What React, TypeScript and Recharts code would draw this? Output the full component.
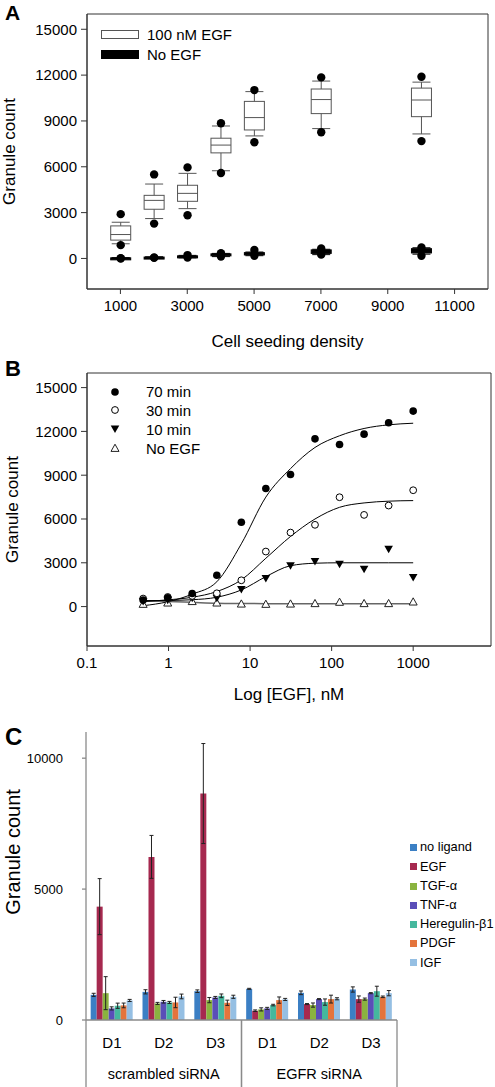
import React from 'react';
import {
  Bar,
  BarChart,
  ComposedChart,
  ErrorBar,
  Label,
  Line,
  ReferenceArea,
  Scatter,
  XAxis,
  YAxis,
} from 'recharts';

const FONT = '"Liberation Sans", Arial, Helvetica, sans-serif';

// ---------- panel A: granule count vs cell seeding density (box plots)
const seedDensity = [1000, 2000, 3000, 4000, 5000, 7000, 10000];
const egfOutLow = [870, 2280, 2830, 5590, 7610, 8260, 7680];
const egfWhiskLow = [960, 2610, 3260, 5740, 8020, 8500, 8150];
const egfQ1 = [1200, 3220, 3740, 6910, 8410, 9480, 9280];
const egfMedian = [1565, 3800, 4260, 7420, 9220, 10400, 10370];
const egfQ3 = [2130, 4130, 4790, 7870, 10280, 11090, 11150];
const egfWhiskHigh = [2370, 4870, 5570, 8670, 10920, 11610, 11540];
const egfOutHigh = [2900, 5500, 5960, 8850, 11020, 11850, 11890];

const noEgfOutLow = [0, 40, 60, 130, 180, 250, 180];
const noEgfWhiskLow = [0, 20, 40, 120, 180, 250, 280];
const noEgfQ1 = [0, 30, 70, 170, 230, 330, 360];
const noEgfMedian = [20, 50, 110, 230, 300, 420, 480];
const noEgfQ3 = [40, 90, 170, 300, 380, 560, 640];
const noEgfWhiskHigh = [50, 110, 200, 330, 420, 600, 700];
const noEgfOutHigh = [20, 70, 220, 350, 550, 650, 720];

const densityTicks = [1000, 3000, 5000, 7000, 9000, 11000];
const countTicks = [0, 3000, 6000, 9000, 12000, 15000];

// ---------- panel B: dose response to EGF
const egfConc = [0.488, 0.977, 1.95, 3.91, 7.81, 15.6, 31.3, 62.5, 125, 250, 500, 1000];
const count70 = [450, 600, 900, 2150, 5780, 8090, 9050, 11490, 11100, 11810, 12590, 13390];
const count30 = [550, 660, 730, 910, 1800, 3770, 5070, 5600, 7490, 6280, 6920, 7970];
const count10 = [340, 430, 570, 570, 1170, 1920, 2790, 3080, 2900, 2560, 3930, 1990];
const countNone = [180, 270, 370, 270, 200, 180, 200, 230, 320, 230, 230, 340];
const fit70 = [60, 330, 850, 1700, 4300, 7500, 9450, 10900, 11700, 12200, 12450, 12560];
const fit30 = [340, 460, 640, 1030, 1830, 3310, 4800, 6000, 6800, 7100, 7220, 7260];
const fit10 = [410, 420, 470, 640, 1140, 2050, 2800, 2970, 3000, 3000, 3000, 3000];
const fitNone = [400, 350, 290, 230, 210, 200, 200, 200, 200, 200, 200, 200];
const concTicks = [0.1, 1, 10, 100, 1000];

// ---------- panel C: ligands x siRNA
const doses = ['D1', 'D2', 'D3', 'D1', 'D2', 'D3'];
const siRNA = ['scrambled siRNA', 'scrambled siRNA', 'scrambled siRNA', 'EGFR siRNA', 'EGFR siRNA', 'EGFR siRNA'];
const ligandNames = ['no ligand', 'EGF', 'TGF-α', 'TNF-α', 'Heregulin-β1', 'PDGF', 'IGF'];
const ligandColors = ['#3B7FC4', '#A6294F', '#8AB33F', '#5A4EB8', '#45B89E', '#E4743C', '#95BFE3'];
const noLigand = [960, 1076, 1100, 1190, 1038, 1165];
const noLigandErr = [60, 80, 50, 20, 70, 100];
const egf = [4330, 6230, 8650, 355, 608, 798];
const egfErr = [1070, 820, 1910, 30, 20, 120];
const tgfa = [1025, 633, 760, 405, 570, 798];
const tgfaErr = [630, 40, 100, 60, 80, 40];
const tnfa = [443, 696, 860, 443, 798, 1025];
const tnfaErr = [60, 50, 40, 40, 20, 20];
const heregulin = [545, 670, 924, 570, 684, 1100];
const heregulinErr = [100, 40, 70, 30, 120, 190];
const pdgf = [557, 670, 658, 760, 798, 886];
const pdgfErr = [90, 200, 100, 120, 150, 30];
const igf = [747, 900, 886, 785, 810, 1025];
const igfErr = [40, 90, 60, 40, 40, 100];
const ligandTicks = [0, 5000, 10000];

const boxRows = seedDensity.map((density, i) => ({
  density,
  egf: [egfOutLow[i], egfWhiskLow[i], egfQ1[i], egfMedian[i], egfQ3[i], egfWhiskHigh[i], egfOutHigh[i]],
  noEgf: [noEgfOutLow[i], noEgfWhiskLow[i], noEgfQ1[i], noEgfMedian[i], noEgfQ3[i], noEgfWhiskHigh[i], noEgfOutHigh[i]],
}));

const doseRows = egfConc.map((conc, i) => ({
  conc,
  count70: count70[i],
  count30: count30[i],
  count10: count10[i],
  countNone: countNone[i],
  fit70: fit70[i],
  fit30: fit30[i],
  fit10: fit10[i],
  fitNone: fitNone[i],
}));

const ligandSeries = [noLigand, egf, tgfa, tnfa, heregulin, pdgf, igf];
const ligandErrors = [noLigandErr, egfErr, tgfaErr, tnfaErr, heregulinErr, pdgfErr, igfErr];
const ligandRows = doses.map((dose, i) => {
  const row: Record<string, string | number> = { dose, siRNA: siRNA[i] };
  ligandSeries.forEach((s, k) => {
    row[`l${k}`] = s[i];
    row[`e${k}`] = ligandErrors[k][i];
  });
  return row;
});

const rangeOf = (d: any) => {
  const all = [...d.egf, ...d.noEgf];
  return [Math.min(...all), Math.max(...all)];
};

// draws one box + whiskers + outliers, using a value->pixel mapper
function drawBox(stats: number[], py: (v: number) => number, cx: number, w: number, dark: boolean, key: string) {
  const [outLo, wLo, q1, med, q3, wHi, outHi] = stats;
  const line = dark ? '#000' : '#555';
  const cap = w * 0.9;
  const boxTop = py(q3);
  const boxH = Math.max(py(q1) - boxTop, dark ? 2 : 0);
  return (
    <g key={key}>
      <line x1={cx} x2={cx} y1={py(wHi)} y2={py(wLo)} stroke={line} strokeWidth={1} />
      <line x1={cx - cap / 2} x2={cx + cap / 2} y1={py(wHi)} y2={py(wHi)} stroke={line} strokeWidth={1} />
      <line x1={cx - cap / 2} x2={cx + cap / 2} y1={py(wLo)} y2={py(wLo)} stroke={line} strokeWidth={1} />
      <rect x={cx - w / 2} y={boxTop} width={w} height={boxH} fill={dark ? '#000' : '#fff'} stroke={line} strokeWidth={1} />
      {!dark && <line x1={cx - w / 2} x2={cx + w / 2} y1={py(med)} y2={py(med)} stroke={line} strokeWidth={1} />}
      <circle cx={cx} cy={py(outLo)} r={4.2} fill="#000" />
      <circle cx={cx} cy={py(outHi)} r={4.2} fill="#000" />
    </g>
  );
}

function BoxShape(props: any) {
  const { x, y, width, height, payload } = props;
  const [lo, hi] = rangeOf(payload);
  const top = Math.min(y, y + height);
  const bottom = Math.max(y, y + height);
  const py = (v: number) => bottom - ((v - lo) / (hi - lo)) * (bottom - top);
  const cx = x + width / 2;
  return (
    <g>
      {drawBox(payload.egf, py, cx, width, false, 'egf')}
      {drawBox(payload.noEgf, py, cx, width, true, 'none')}
    </g>
  );
}

const filledCircle = (p: any) => <circle cx={p.cx} cy={p.cy} r={3.8} fill="#000" />;
const openCircle = (p: any) => <circle cx={p.cx} cy={p.cy} r={3.4} fill="#fff" stroke="#000" strokeWidth={1} />;
const downTriangle = (p: any) => (
  <path d={`M${p.cx - 4.3},${p.cy - 3.5}L${p.cx + 4.3},${p.cy - 3.5}L${p.cx},${p.cy + 4}Z`} fill="#000" />
);
const upTriangle = (p: any) => (
  <path
    d={`M${p.cx - 4},${p.cy + 3.4}L${p.cx + 4},${p.cy + 3.4}L${p.cx},${p.cy - 3.8}Z`}
    fill="#fff"
    stroke="#222"
    strokeWidth={1}
  />
);

const tickStyle = { fontSize: 15, fill: '#000', fontFamily: FONT };
const frame = '#333';

function PanelLetter({ text, top, size }: { text: string; top: number; size: number }) {
  return (
    <div style={{ position: 'absolute', left: 5, top, fontSize: size, fontWeight: 'bold', lineHeight: 1 }}>
      {text}
    </div>
  );
}

function PanelA() {
  return (
    <ComposedChart width={495} height={352} data={boxRows} margin={{ top: 14, right: 7, bottom: 3, left: 0 }}>
      <XAxis
        dataKey="density"
        type="number"
        domain={[0, 12000]}
        ticks={densityTicks}
        height={60}
        tickSize={5}
        tickMargin={6}
        stroke={frame}
        tick={tickStyle}
      >
        <Label value="Cell seeding density" position="insideBottom" offset={2} fill="#000" fontSize={17} />
      </XAxis>
      <YAxis
        type="number"
        domain={[-2000, 16000]}
        ticks={countTicks}
        width={87}
        tickSize={6}
        tickMargin={4}
        stroke={frame}
        tick={tickStyle}
      >
        <Label
          value="Granule count"
          angle={-90}
          position="insideLeft"
          offset={9}
          fill="#000"
          fontSize={17}
          style={{ textAnchor: 'middle' }}
        />
      </YAxis>
      <ReferenceArea x1={0} x2={12000} y1={-2000} y2={16000} fill="none" stroke={frame} strokeWidth={1} />
      <Bar dataKey={rangeOf} barSize={20} shape={BoxShape} activeBar={false} isAnimationActive={false} />
    </ComposedChart>
  );
}

function PanelB() {
  return (
    <ComposedChart width={495} height={362} data={doseRows} margin={{ top: 23, right: 4, bottom: 4, left: 0 }}>
      <XAxis
        dataKey="conc"
        type="number"
        scale="log"
        domain={[0.1, 9000]}
        ticks={concTicks}
        allowDataOverflow
        height={62}
        tickSize={5}
        tickMargin={6}
        stroke={frame}
        tick={tickStyle}
      >
        <Label value="Log [EGF], nM" position="insideBottom" offset={8} fill="#000" fontSize={17} />
      </XAxis>
      <YAxis
        type="number"
        domain={[-2700, 16000]}
        ticks={countTicks}
        width={87}
        tickSize={6}
        tickMargin={4}
        stroke={frame}
        tick={tickStyle}
      >
        <Label
          value="Granule count"
          angle={-90}
          position="insideLeft"
          offset={12}
          fill="#000"
          fontSize={17}
          style={{ textAnchor: 'middle' }}
        />
      </YAxis>
      <ReferenceArea x1={0.1} x2={9000} y1={-2700} y2={16000} fill="none" stroke={frame} strokeWidth={1} />
      <Line dataKey="fitNone" type="monotone" stroke="#666" strokeWidth={1.5} dot={false} isAnimationActive={false} />
      <Line dataKey="fit10" type="monotone" stroke="#000" strokeWidth={1} dot={false} isAnimationActive={false} />
      <Line dataKey="fit30" type="monotone" stroke="#000" strokeWidth={1} dot={false} isAnimationActive={false} />
      <Line dataKey="fit70" type="monotone" stroke="#000" strokeWidth={1} dot={false} isAnimationActive={false} />
      <Scatter dataKey="countNone" shape={upTriangle} isAnimationActive={false} />
      <Scatter dataKey="count10" shape={downTriangle} isAnimationActive={false} />
      <Scatter dataKey="count30" shape={openCircle} isAnimationActive={false} />
      <Scatter dataKey="count70" shape={filledCircle} isAnimationActive={false} />
    </ComposedChart>
  );
}

// panel C layout constants
const C_W = 495;
const C_H = 372;
const C_MARGIN_TOP = 17;
const C_MARGIN_RIGHT = 98;
const C_YAXIS_W = 86;
const C_DOSE_H = 35;
const C_GROUP_H = 32;
const C_PLOT_W = C_W - C_MARGIN_RIGHT - C_YAXIS_W;
const C_PLOT_BOTTOM = C_H - C_DOSE_H - C_GROUP_H;

function GroupTick(props: any) {
  const { x, y, payload } = props;
  const half = C_PLOT_W / 4;
  return (
    <g>
      <line x1={x - half} x2={x - half} y1={C_PLOT_BOTTOM} y2={C_H} stroke="#8a8a8a" strokeWidth={1.3} />
      <line x1={x + half} x2={x + half} y1={C_PLOT_BOTTOM} y2={C_H} stroke="#8a8a8a" strokeWidth={1.3} />
      <text x={x} y={y} dy="0.71em" textAnchor="middle" fontSize={14.5} fontFamily={FONT} fill="#000">
        {payload.value}
      </text>
    </g>
  );
}

function PanelC() {
  return (
    <BarChart
      width={C_W}
      height={C_H}
      data={ligandRows}
      margin={{ top: C_MARGIN_TOP, right: C_MARGIN_RIGHT, bottom: 0, left: 0 }}
      barCategoryGap="9%"
      barGap={0}
    >
      <XAxis
        dataKey="dose"
        height={C_DOSE_H}
        tickLine={false}
        tickSize={6}
        tickMargin={11}
        stroke="#8a8a8a"
        strokeWidth={1.3}
        tick={{ fontSize: 15, fill: '#000', fontFamily: FONT }}
      />
      <XAxis
        xAxisId="group"
        dataKey="siRNA"
        allowDuplicatedCategory={false}
        height={C_GROUP_H}
        axisLine={false}
        tickLine={false}
        tickSize={0}
        tickMargin={14}
        tick={GroupTick}
      />
      <YAxis
        type="number"
        domain={[0, 11000]}
        ticks={ligandTicks}
        width={C_YAXIS_W}
        tickSize={4}
        tickMargin={19}
        stroke="#8a8a8a"
        strokeWidth={1.3}
        tick={{ fontSize: 13, fill: '#000', fontFamily: FONT }}
      >
        <Label
          value="Granule count"
          angle={-90}
          position="insideLeft"
          offset={13}
          dy={-24}
          fill="#000"
          fontSize={20}
          style={{ textAnchor: 'middle' }}
        />
      </YAxis>
      {ligandNames.map((name, k) => (
        <Bar key={name} name={name} dataKey={`l${k}`} fill={ligandColors[k]} isAnimationActive={false}>
          <ErrorBar dataKey={`e${k}`} width={2} stroke="#222" strokeWidth={1} />
        </Bar>
      ))}
    </BarChart>
  );
}

function LegendA() {
  return (
    <div style={{ position: 'absolute', left: 0, top: 0, fontSize: 15 }}>
      <div style={{ position: 'absolute', left: 101, top: 30, width: 36, height: 6.5, border: '1px solid #555', background: '#fff' }} />
      <div style={{ position: 'absolute', left: 147, top: 27, lineHeight: 1, whiteSpace: 'nowrap' }}>100 nM EGF</div>
      <div style={{ position: 'absolute', left: 101, top: 49.5, width: 38, height: 9, background: '#000' }} />
      <div style={{ position: 'absolute', left: 147, top: 47, lineHeight: 1, whiteSpace: 'nowrap' }}>No EGF</div>
    </div>
  );
}

const legendBItems = [
  { label: '70 min', shape: filledCircle },
  { label: '30 min', shape: openCircle },
  { label: '10 min', shape: downTriangle },
  { label: 'No EGF', shape: upTriangle },
];

function LegendB() {
  return (
    <div style={{ position: 'absolute', left: 0, top: 0, fontSize: 15 }}>
      {legendBItems.map((item, i) => {
        const cy = 391.7 + i * 18.7;
        return (
          <React.Fragment key={item.label}>
            <svg width={12} height={12} style={{ position: 'absolute', left: 109, top: cy - 6 }}>
              {item.shape({ cx: 6, cy: 6 })}
            </svg>
            <div style={{ position: 'absolute', left: 146, top: cy - 7.3, lineHeight: 1, whiteSpace: 'nowrap' }}>
              {item.label}
            </div>
          </React.Fragment>
        );
      })}
    </div>
  );
}

function LegendC() {
  return (
    <div style={{ position: 'absolute', left: 0, top: 0, fontSize: 12.8 }}>
      {ligandNames.map((name, k) => {
        const cy = 847.7 + k * 19.2;
        return (
          <React.Fragment key={name}>
            <div style={{ position: 'absolute', left: 410, top: cy - 3.5, width: 7, height: 7, background: ligandColors[k] }} />
            <div style={{ position: 'absolute', left: 420, top: cy - 6.3, lineHeight: 1, whiteSpace: 'nowrap' }}>{name}</div>
          </React.Fragment>
        );
      })}
    </div>
  );
}

export default function App() {
  return (
    <div
      style={{
        position: 'absolute',
        left: 0,
        top: 0,
        width: 495,
        height: 1087,
        background: '#fff',
        fontFamily: FONT,
        color: '#000',
        overflow: 'hidden',
      }}
    >
      <div style={{ position: 'absolute', left: 0, top: 0 }}>
        <PanelA />
      </div>
      <div style={{ position: 'absolute', left: 0, top: 350 }}>
        <PanelB />
      </div>
      <div style={{ position: 'absolute', left: 0, top: 715 }}>
        <PanelC />
      </div>
      <LegendA />
      <LegendB />
      <LegendC />
      <PanelLetter text="A" top={2} size={21} />
      <PanelLetter text="B" top={358} size={22} />
      <PanelLetter text="C" top={725} size={24} />
    </div>
  );
}
